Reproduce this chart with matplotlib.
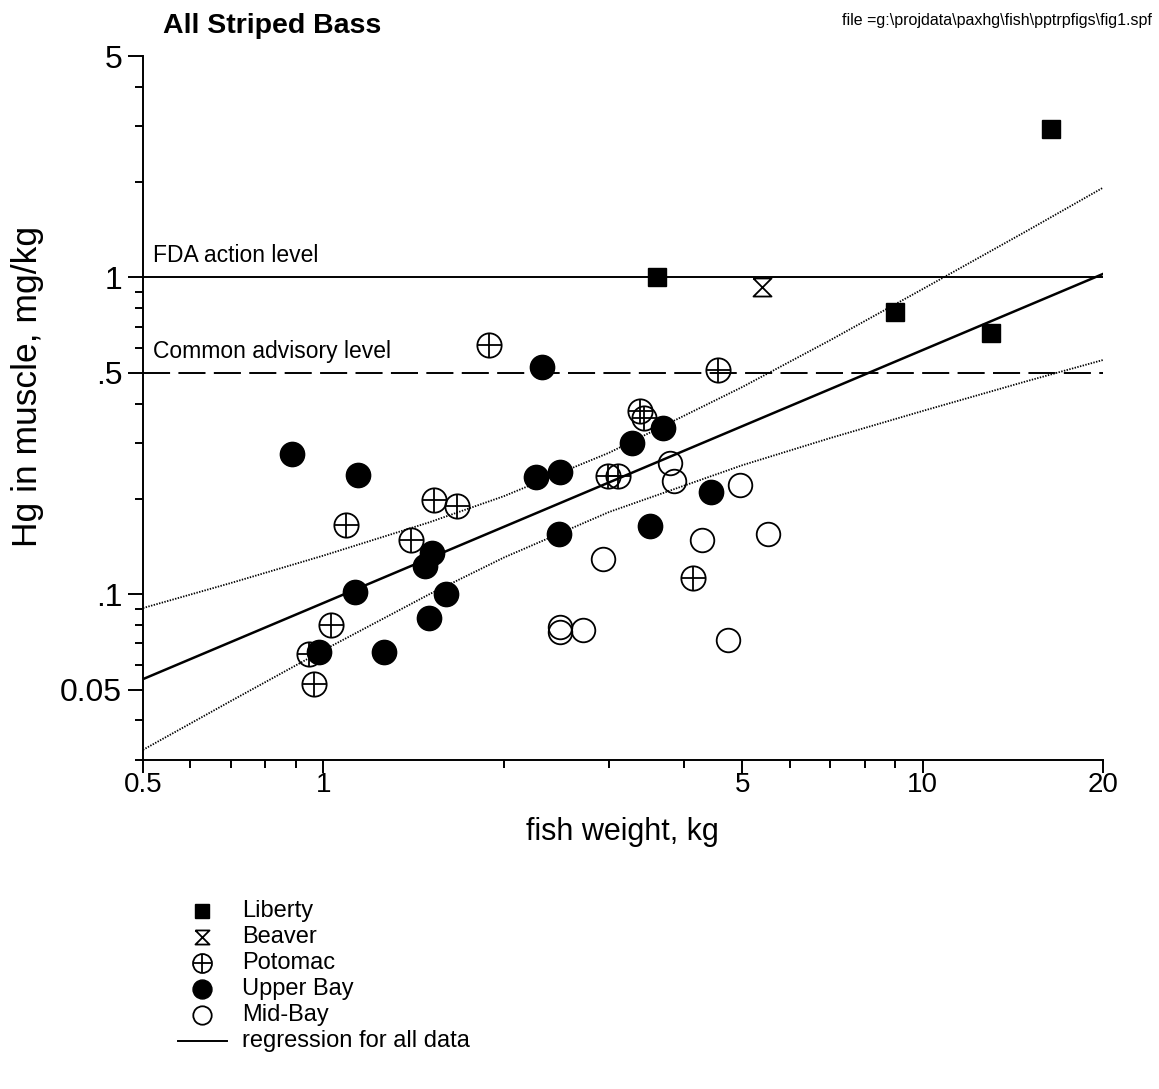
import matplotlib
matplotlib.use('Agg')
import matplotlib.pyplot as plt
from matplotlib.path import Path
from matplotlib.lines import Line2D

plt.rcParams['font.family'] = ['Liberation Sans', 'DejaVu Sans']
plt.rcParams['lines.scale_dashes'] = False

# fish weight (kg) and Hg in muscle (mg/kg)
liberty_w = [3.6, 9.0, 13.0, 16.4]
liberty_hg = [1.0, 0.78, 0.67, 2.95]
beaver_w = [5.4]
beaver_hg = [0.93]
potomac_w = [1.89, 4.56, 3.38, 3.43, 1.53, 1.67, 1.09, 1.40, 2.98, 3.10, 4.14, 1.03, 0.946, 0.966]
potomac_hg = [0.61, 0.51, 0.38, 0.36, 0.198, 0.19, 0.165, 0.148, 0.237, 0.237, 0.113, 0.080, 0.065, 0.052]
upper_w = [0.886, 1.144, 2.32, 2.26, 2.48, 3.27, 3.69, 4.44, 2.47, 3.51, 1.52, 1.48, 1.13, 1.60, 1.50, 0.984, 1.26]
upper_hg = [0.277, 0.238, 0.523, 0.234, 0.243, 0.30, 0.336, 0.211, 0.155, 0.164, 0.135, 0.123, 0.102, 0.100, 0.084, 0.066, 0.066]
mid_w = [3.79, 3.84, 4.96, 5.53, 4.29, 2.93, 2.48, 2.48, 2.71, 4.74]
mid_hg = [0.259, 0.228, 0.221, 0.155, 0.148, 0.129, 0.079, 0.076, 0.077, 0.072]

# regression and its confidence band
reg_w = [0.5, 20]
reg_hg = [0.054, 1.026]
band_w = [0.5, 0.7, 1, 1.5, 2, 3, 5, 7, 10, 15, 20]
band_hi = [0.0905, 0.1085, 0.1325, 0.1686, 0.204, 0.280, 0.451, 0.633, 0.919, 1.41, 1.92]
band_lo = [0.0323, 0.046, 0.0666, 0.0999, 0.1306, 0.182, 0.2555, 0.311, 0.379, 0.472, 0.549]

fda_level = 1.0
advisory_level = 0.5

xticks = [0.5, 1, 5, 10, 20]
xticklabels = ['0.5', '1', '5', '10', '20']
xminor = [0.6, 0.7, 0.8, 0.9, 2, 3, 4, 6, 7, 8, 9]
yticks = [0.05, 0.1, 0.5, 1, 5]
yticklabels = ['0.05', '.1', '.5', '1', '5']
yminor = [0.03, 0.04, 0.06, 0.07, 0.08, 0.09, 0.2, 0.3, 0.4, 0.6, 0.7, 0.8, 0.9, 2, 3, 4]

W, H = 1159, 1089
fig = plt.figure(figsize=(W / 100, H / 100), dpi=100)
ax = fig.add_axes([143 / W, 1 - 760 / H, 960 / W, 704 / H])

hourglass = Path([(-1, 1), (1, 1), (-1, -1), (1, -1), (-1, 1)],
                 [Path.MOVETO, Path.LINETO, Path.LINETO, Path.LINETO, Path.LINETO])

ax.axhline(fda_level, color='black', lw=1.4)
ax.axhline(advisory_level, color='black', lw=1.4, ls=(0, (19.5, 6)))
ax.plot(reg_w, reg_hg, color='black', lw=1.8)
ax.plot(band_w, band_hi, color='black', lw=1.3, ls=(0, (1, 1)))
ax.plot(band_w, band_lo, color='black', lw=1.3, ls=(0, (1, 1)))

styles = {
    'Liberty': dict(marker='s', ms=13, mfc='black', mec='black'),
    'Beaver': dict(marker=hourglass, ms=13, mfc='white', mec='black', mew=1.3),
    'Potomac': dict(marker='o', ms=17.5, mfc='none', mec='black', mew=1.3),
    'Upper Bay': dict(marker='o', ms=17.5, mfc='black', mec='black'),
    'Mid-Bay': dict(marker='o', ms=17, mfc='none', mec='black', mew=1.3),
}

ax.plot(liberty_w, liberty_hg, ls='none', **styles['Liberty'])
ax.plot(beaver_w, beaver_hg, ls='none', **styles['Beaver'])
ax.plot(potomac_w, potomac_hg, ls='none', **styles['Potomac'])
ax.plot(potomac_w, potomac_hg, ls='none', marker='+', ms=17.5, mec='black', mew=1.3)
ax.plot(upper_w, upper_hg, ls='none', **styles['Upper Bay'])
ax.plot(mid_w, mid_hg, ls='none', **styles['Mid-Bay'])

ax.annotate('FDA action level', xy=(0.5, fda_level), xytext=(7.2, 11.4),
            textcoords='offset points', fontsize=16.5, va='baseline')
ax.annotate('Common advisory level', xy=(0.5, advisory_level), xytext=(7.2, 10.6),
            textcoords='offset points', fontsize=16.5, va='baseline')

ax.set_xscale('log')
ax.set_yscale('log')
ax.set_xlim(0.5, 20)
ax.set_ylim(0.03, 5)
ax.set_xticks(xticks)
ax.set_xticklabels(xticklabels)
ax.set_xticks(xminor, minor=True)
ax.set_xticklabels([], minor=True)
ax.set_yticks(yticks)
ax.set_yticklabels(yticklabels)
ax.set_yticks(yminor, minor=True)
ax.set_yticklabels([], minor=True)
ax.tick_params(which='major', direction='out', length=11, width=1.4)
ax.tick_params(which='minor', direction='out', length=6, width=1.4)
ax.tick_params(axis='x', which='major', length=9, labelsize=20, pad=0)
ax.tick_params(axis='y', labelsize=23, pad=4)
for s in ['top', 'right']:
    ax.spines[s].set_visible(False)
for s in ['left', 'bottom']:
    ax.spines[s].set_linewidth(1.4)

fig.text(622 / W, 1 - 832 / H, 'fish weight, kg', fontsize=22, ha='center', va='center')
fig.text(28 / W, 1 - 386 / H, 'Hg in muscle, mg/kg', fontsize=25.5, rotation=90,
         ha='center', va='center')
fig.text(163 / W, 1 - 33 / H, 'All Striped Bass', fontsize=20.5, fontweight='bold',
         va='baseline')
fig.text(1152 / W, 1 - 25 / H, r'file =g:\projdata\paxhg\fish\pptrpfigs\fig1.spf',
         fontsize=11.5, ha='right', va='baseline')

# legend drawn by hand below the axes
legend_rows = ['Liberty', 'Beaver', 'Potomac', 'Upper Bay', 'Mid-Bay', 'regression for all data']
row_y = [911, 937, 963, 989, 1015, 1041]
for name, py in zip(legend_rows, row_y):
    fy = 1 - py / H
    if name in styles:
        st = dict(styles[name])
        st['ms'] = st['ms'] * 0.78
        fig.add_artist(Line2D([202 / W], [fy], ls='none', **st))
        if name == 'Potomac':
            fig.add_artist(Line2D([202 / W], [fy], ls='none', marker='+', ms=st['ms'],
                                  mec='black', mew=1.3))
    else:
        fig.add_artist(Line2D([178 / W, 227 / W], [fy, fy], color='black', lw=1.4))
    fig.text(242 / W, fy, name, fontsize=17, va='center')

fig.savefig('out.png', dpi=100)
